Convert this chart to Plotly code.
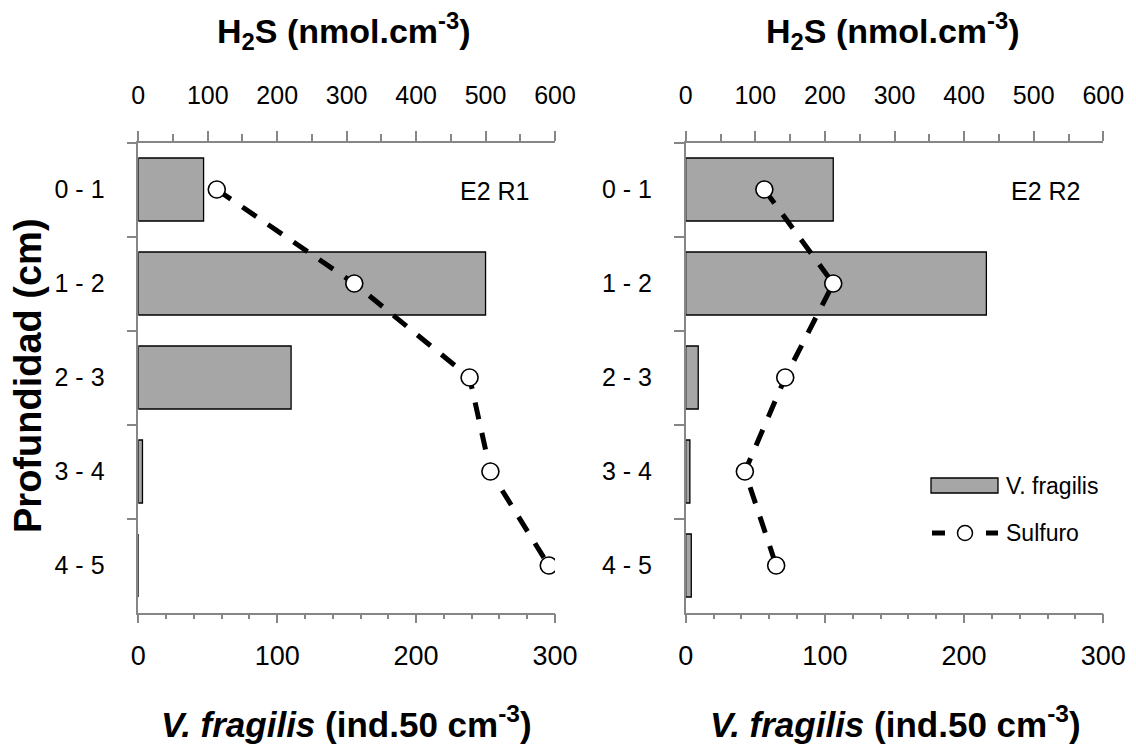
import plotly.graph_objects as go

# Depth intervals (cm) and the two replicate profiles
depth = ["0 - 1", "1 - 2", "2 - 3", "3 - 4", "4 - 5"]
vfragilis_r1 = [47, 250, 110, 3, 0]      # ind.50 cm-3
sulfuro_r1 = [113, 311, 477, 507, 591]   # nmol.cm-3
vfragilis_r2 = [106, 216, 9, 3, 4]
sulfuro_r2 = [113, 212, 143, 85, 130]
panel_labels = ["E2 R1", "E2 R2"]

W, H = 1136, 753
FONT = "Liberation Sans, Arial, sans-serif"
AXIS_GREY = "#868686"
BAR_GREY = "#a6a6a6"


def fx(px):
    return px / W


def fy(py):
    return 1 - py / H


fig = go.Figure()

panels = [
    dict(vf=vfragilis_r1, s=sulfuro_r1, xb="x", xt="x2", y="y"),
    dict(vf=vfragilis_r2, s=sulfuro_r2, xb="x3", xt="x4", y="y2"),
]
for p in panels:
    fig.add_trace(go.Bar(
        x=p["vf"], y=depth, orientation="h", xaxis=p["xb"], yaxis=p["y"],
        name="V. fragilis", showlegend=False,
        marker=dict(color=BAR_GREY, line=dict(color="black", width=1.3)),
    ))
    fig.add_trace(go.Scatter(
        x=p["s"], y=depth, xaxis=p["xt"], yaxis=p["y"], mode="lines+markers",
        name="Sulfuro", showlegend=False,
        line=dict(color="black", width=5, dash="17px,14px"),
        marker=dict(size=17, color="white", line=dict(color="black", width=1.6)),
    ))

dom_left = [fx(138.3), fx(555.0)]
dom_right = [fx(685.7), fx(1103.3)]
ydom = [fy(612.5), fy(142.5)]


def bottom_axis(domain, anchor):
    return dict(
        domain=domain, anchor=anchor, range=[0, 300], tick0=0, dtick=100,
        ticks="outside", ticklen=9, tickwidth=1.5, tickcolor=AXIS_GREY,
        showline=True, linecolor=AXIS_GREY, linewidth=1.5,
        showgrid=False, zeroline=False, fixedrange=True, automargin=False,
        tickfont=dict(size=27, color="black", family=FONT),
        ticklabelstandoff=9,
        minor=dict(dtick=20, tick0=0, ticks="outside", ticklen=5, tickwidth=1.5,
                   tickcolor=AXIS_GREY, showgrid=False),
    )


def top_axis(over, anchor):
    return dict(
        overlaying=over, anchor=anchor, side="top", range=[0, 600], tick0=0, dtick=100,
        ticks="outside", ticklen=10, tickwidth=1.5, tickcolor=AXIS_GREY,
        showline=True, linecolor=AXIS_GREY, linewidth=1.5,
        showgrid=False, zeroline=False, fixedrange=True, automargin=False,
        tickfont=dict(size=25, color="black", family=FONT),
        ticklabelstandoff=17,
        minor=dict(dtick=50, tick0=0, ticks="outside", ticklen=7, tickwidth=1.5,
                   tickcolor=AXIS_GREY, showgrid=False),
    )


def depth_axis(anchor):
    return dict(
        domain=ydom, anchor=anchor, type="category",
        categoryorder="array", categoryarray=depth, range=[4.5, -0.5],
        tickson="boundaries", ticks="outside", ticklen=10, tickwidth=1.5,
        tickcolor=AXIS_GREY, showline=True, linecolor=AXIS_GREY, linewidth=1.5,
        showgrid=False, zeroline=False, fixedrange=True, automargin=False,
        tickfont=dict(size=25, color="black", family=FONT),
        ticklabelstandoff=27,
    )


fig.update_layout(
    width=W, height=H, autosize=False,
    margin=dict(l=0, r=0, t=0, b=0, pad=0, autoexpand=False),
    paper_bgcolor="white", plot_bgcolor="white",
    font=dict(family=FONT, color="black"),
    bargap=0.33, showlegend=False,
    xaxis=bottom_axis(dom_left, "y"),
    xaxis2=top_axis("x", "y"),
    xaxis3=bottom_axis(dom_right, "y2"),
    xaxis4=top_axis("x3", "y2"),
    yaxis=depth_axis("x"),
    yaxis2=depth_axis("x3"),
)

annotations = []
# Panel labels
for label, cx in zip(panel_labels, [494, 1045]):
    annotations.append(dict(x=fx(cx), y=fy(191), xref="paper", yref="paper",
                            text=label, showarrow=False, xanchor="center", yanchor="middle",
                            font=dict(size=25, family=FONT, color="black")))
# Axis titles
for cx in [344, 893]:
    annotations.append(dict(x=fx(cx), y=fy(31), xref="paper", yref="paper",
                            text="<b>H<sub>2</sub>S (nmol.cm<sup>-3</sup>)</b>",
                            showarrow=False, xanchor="center", yanchor="middle",
                            font=dict(size=34, family=FONT, color="black")))
for cx in [346, 895]:
    annotations.append(dict(x=fx(cx), y=fy(722), xref="paper", yref="paper",
                            text="<b><i>V. fragilis</i> (ind.50 cm<sup>-3</sup>)</b>",
                            showarrow=False, xanchor="center", yanchor="middle",
                            font=dict(size=35, family=FONT, color="black")))
annotations.append(dict(x=fx(28), y=fy(376), xref="paper", yref="paper",
                        text="<b>Profundidad (cm)</b>", textangle=-90,
                        showarrow=False, xanchor="center", yanchor="middle",
                        font=dict(size=38, family=FONT, color="black")))
# Legend text
annotations.append(dict(x=fx(1004), y=fy(486), xref="paper", yref="paper",
                        text="V. fragilis", showarrow=False, xanchor="left", yanchor="middle",
                        font=dict(size=23, family=FONT, color="black")))
annotations.append(dict(x=fx(1004), y=fy(533), xref="paper", yref="paper",
                        text="Sulfuro", showarrow=False, xanchor="left", yanchor="middle",
                        font=dict(size=23, family=FONT, color="black")))

shapes = [
    # legend swatch for the bars
    dict(type="rect", xref="paper", yref="paper",
         x0=fx(931), x1=fx(998), y0=fy(493), y1=fy(478),
         fillcolor=BAR_GREY, line=dict(color="black", width=1.3)),
    # legend sample for the dashed profile line
    dict(type="line", xref="paper", yref="paper",
         x0=fx(932), x1=fx(945), y0=fy(533), y1=fy(533),
         line=dict(color="black", width=5)),
    dict(type="line", xref="paper", yref="paper",
         x0=fx(986), x1=fx(998), y0=fy(533), y1=fy(533),
         line=dict(color="black", width=5)),
    dict(type="circle", xref="paper", yref="paper",
         x0=fx(957.5), x1=fx(972.5), y0=fy(540.5), y1=fy(525.5),
         fillcolor="white", line=dict(color="black", width=1.5)),
]

fig.update_layout(annotations=annotations, shapes=shapes)

fig.write_html("out.html", config={"responsive": False})
